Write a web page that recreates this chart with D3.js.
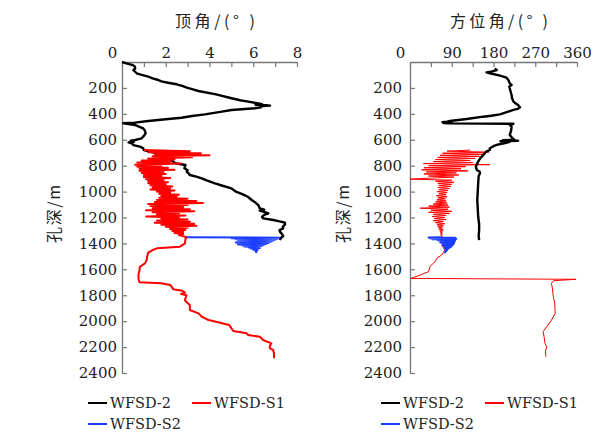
<!DOCTYPE html>
<html><head><meta charset="utf-8">
<script src="https://cdn.jsdelivr.net/npm/d3@7"></script>
<style>body{margin:0;background:#fff}</style>
</head><body><svg id="c" width="602" height="435"></svg>
<script>
// ---------- data ----------
const seriesNames = ["WFSD-2", "WFSD-S1", "WFSD-S2"];
const depthTicks = [200, 400, 600, 800, 1000, 1200, 1400, 1600, 1800, 2000, 2200, 2400];
const inclTicks = [0, 1, 2, 3, 4, 5, 6, 7, 8];
const azimTicks = [0, 45, 90, 135, 180, 225, 270, 315, 360];
const inclTitle = "顶角/(° )";
const azimTitle = "方位角/(° )";
const depthTitle = "孔深/m";

// [depth m, inclination deg]
const wfsd2Incl = [[0,0],[10,0.2],[24,0.5],[36,0.59],[50,0.6],[62,0.52],[75,0.6],[87,0.67],[100,0.9],[113,1.2],[126,1.4],[139,1.66],[150,1.8],[160,2.1],[172,2.5],[185,2.75],[198,2.96],[210,3.2],[224,3.49],[250,4.3],[280,5.01],[295,5.4],[306,5.77],[319,6.23],[326,6.4],[330,6.1],[334,6.6],[337,6.77],[342,6.3],[350,6.35],[357,6.08],[370,5.0],[385,4.5],[404,3.79],[417,3.2],[430,2.72],[442,2.0],[455,1.2],[468,0.59],[473,0.06],[478,0.3],[486,0.59],[500,0.8],[512,0.97],[530,1.05],[550,1.08],[570,1.0],[589,0.9],[602,0.6],[608,0.4],[615,0.55],[620,0.3],[628,0.45],[641,0.52],[653,0.82],[666,0.97],[679,1.0],[692,1.28],[710,1.7],[731,2.04],[750,2.2],[769,2.34],[782,2.45],[795,2.9],[808,2.88],[820,2.85],[835,3.0],[847,2.96],[860,3.05],[872,3.1],[885,3.4],[898,3.64],[915,3.9],[936,4.25],[955,4.6],[975,5.0],[1000,5.2],[1020,5.5],[1040,5.75],[1065,5.93],[1085,6.1],[1104,6.23],[1130,6.3],[1140,6.5],[1148,6.3],[1155,6.46],[1168,6.69],[1180,6.5],[1195,6.4],[1207,6.46],[1219,6.92],[1230,7.2],[1240,7.45],[1255,7.45],[1270,7.35],[1284,7.37],[1297,7.2],[1309,7.22],[1325,7.3],[1343,7.37],[1360,7.25],[1375,7.22]];

// [depth m, azimuth deg]
const wfsd2Azim = [[49,183],[62,187],[75,175],[80,165],[87,172],[105,194],[121,208],[139,212],[165,215],[177,219],[190,214],[203,215],[230,217],[255,219],[280,220],[306,223],[320,228],[332,233],[350,237],[362,232],[370,223],[385,210],[404,194],[415,175],[422,158],[440,122],[455,86],[460,80],[464,70],[468,90],[471,72],[474,85],[477,223],[485,215],[499,219],[530,218],[563,215],[585,220],[600,225],[604,200],[608,233],[612,195],[616,215],[625,205],[640,187],[650,180],[666,172],[679,172],[690,165],[718,158],[740,152],[769,147],[790,144],[810,142],[833,144],[845,150],[859,151],[880,148],[936,147],[1000,146],[1065,145],[1130,146],[1194,147],[1250,149],[1297,149],[1340,148],[1374,149]];

const s1Incl = [[680,1.0],[688,3.1],[696,1.2],[704,3.6],[712,1.5],[720,4.0],[728,1.4],[736,3.2],[744,1.2],[752,2.4],[760,0.9],[768,2.2],[776,0.7],[784,2.7],[792,0.6],[800,1.8],[808,0.7],[816,2.1],[824,0.8],[832,2.4],[840,0.8],[848,1.9],[856,0.9],[864,2.0],[872,1.0],[880,1.8],[888,1.0],[896,2.2],[904,1.1],[912,1.9],[920,1.2],[928,2.1],[936,1.2],[944,2.0],[952,1.3],[960,2.3],[968,1.4],[976,2.2],[984,1.3],[992,2.4],[1000,1.6],[1008,2.2],[1016,1.7],[1024,2.6],[1032,1.8],[1040,2.5],[1048,1.7],[1056,3.0],[1064,1.6],[1072,3.4],[1080,1.5],[1088,3.7],[1096,1.2],[1104,3.0],[1112,1.3],[1120,2.8],[1128,1.4],[1136,3.1],[1144,1.1],[1152,3.3],[1160,1.4],[1168,2.6],[1176,1.6],[1184,2.9],[1192,1.1],[1200,2.6],[1208,1.8],[1216,3.0],[1224,1.6],[1232,3.1],[1240,1.5],[1248,3.3],[1256,1.8],[1264,3.4],[1272,2.0],[1280,3.0],[1288,2.2],[1296,2.9],[1304,2.3],[1312,2.8],[1320,2.4],[1328,2.8],[1336,2.6],[1344,2.8],[1352,2.95],[1365,2.9],[1400,2.88],[1425,2.65],[1438,1.6],[1451,1.4],[1471,1.2],[1500,1.15],[1528,1.13],[1554,1.05],[1580,0.82],[1605,0.8],[1644,0.75],[1680,0.76],[1700,0.8],[1708,1.8],[1721,2.2],[1734,2.27],[1754,2.34],[1765,2.75],[1780,2.88],[1790,2.7],[1800,2.95],[1823,2.9],[1840,2.88],[1875,3.1],[1914,3.1],[1940,3.5],[1965,3.64],[1991,3.95],[2004,4.3],[2030,4.9],[2042,4.95],[2076,5.09],[2094,5.7],[2107,5.77],[2120,6.3],[2145,6.45],[2171,6.83],[2190,6.76],[2210,6.76],[2222,6.91],[2250,6.95],[2287,6.95]];

const s1Azim = [[680,130],[688,80],[696,170],[704,70],[712,160],[720,65],[728,150],[736,60],[744,140],[752,55],[760,130],[768,50],[776,135],[784,29],[792,172],[800,40],[808,120],[816,30],[824,110],[832,25],[840,125],[848,35],[856,100],[864,30],[872,105],[880,40],[888,95],[896,45],[904,0],[912,90],[920,55],[928,95],[936,60],[944,90],[952,62],[960,88],[968,60],[976,85],[984,62],[992,82],[1000,58],[1008,80],[1016,62],[1024,78],[1032,57],[1040,80],[1048,60],[1056,76],[1064,58],[1072,78],[1080,55],[1088,80],[1096,50],[1104,82],[1112,40],[1120,85],[1128,22],[1136,82],[1144,45],[1152,90],[1160,40],[1168,85],[1176,50],[1184,78],[1192,48],[1200,75],[1208,52],[1216,78],[1224,50],[1232,72],[1240,55],[1248,75],[1256,58],[1264,72],[1272,60],[1280,70],[1288,62],[1296,72],[1304,64],[1312,70],[1320,65],[1328,70],[1336,66],[1344,70],[1352,68],[1380,68],[1420,70],[1451,75],[1470,72],[1490,68],[1515,58],[1541,54],[1560,48],[1580,43],[1618,40],[1644,22],[1660,10],[1670,2],[1677,358],[1683,330],[1688,309],[1708,305],[1750,307],[1811,309],[1860,312],[1940,313],[1991,305],[2042,295],[2081,287],[2120,289],[2171,291],[2197,295],[2230,292],[2274,293]];

const s2Incl = [[1352,2.95],[1356,7.2],[1360,5.0],[1364,7.1],[1368,5.2],[1372,7.0],[1376,5.3],[1380,6.9],[1384,5.5],[1388,6.8],[1392,5.2],[1396,6.7],[1400,5.4],[1404,6.6],[1408,5.3],[1412,6.5],[1416,5.5],[1420,6.4],[1424,5.6],[1428,6.3],[1432,5.8],[1436,6.3],[1440,5.9],[1444,6.2],[1448,6.0],[1452,6.2],[1458,6.1],[1466,6.15],[1472,6.1]];

const s2Azim = [[1352,68],[1354,40],[1356,97],[1360,42],[1364,100],[1368,48],[1372,98],[1376,60],[1380,97],[1384,70],[1388,96],[1392,65],[1396,95],[1400,70],[1404,94],[1408,72],[1412,92],[1416,70],[1420,90],[1424,74],[1428,88],[1432,75],[1436,85],[1440,76],[1444,82],[1448,76],[1452,80],[1458,78],[1466,76],[1476,75]];

// ---------- drawing ----------
const colors = {"WFSD-2": "#000000", "WFSD-S1": "#ff0000", "WFSD-S2": "#1a3cff"};
const svg = d3.select("#c");
const numFont = "'DejaVu Serif', serif";
const cjkFont = "'Noto Sans CJK SC', sans-serif";

const yScale = d3.scaleLinear().domain([0, 2400]).range([62, 373]);

function panel(cfg) {
  const x = d3.scaleLinear().domain(cfg.domain).range(cfg.range);
  const g = svg.append("g");

  const xAxis = d3.axisTop(x).tickValues(cfg.ticks).tickSizeInner(-5).tickSizeOuter(0).tickPadding(4)
    .tickFormat(d => (d % cfg.labelStep === 0 ? String(d) : ""));
  const gx = g.append("g").attr("transform", `translate(0,${yScale(0)})`).call(xAxis);
  gx.selectAll("text").filter(d => d === 0).attr("dx", -10);

  const yAxis = d3.axisLeft(yScale).tickValues(depthTicks).tickSizeInner(-5).tickSizeOuter(0)
    .tickPadding(cfg.ypad).tickFormat(d => String(d));
  const gy = g.append("g").attr("transform", `translate(${cfg.range[0]},0)`).call(yAxis);

  [gx, gy].forEach(a => {
    a.select(".domain").attr("stroke", "#777").attr("stroke-width", 1.3);
    a.selectAll(".tick line").attr("stroke", "#777").attr("stroke-width", 1.2);
    a.selectAll("text").attr("font-family", numFont).attr("font-size", 15).attr("fill", "#222");
  });

  const line = d3.line().x(d => x(d[1])).y(d => yScale(d[0]));
  cfg.series.forEach(s => {
    g.append("path").datum(s.data).attr("d", line).attr("fill", "none")
      .attr("stroke", colors[s.name]).attr("stroke-width", s.w).attr("stroke-linejoin", "round");
  });

  g.append("text").attr("x", cfg.titleX).attr("y", 27).attr("text-anchor", "middle")
    .attr("font-family", cjkFont).attr("font-size", 16).attr("fill", "#222")
    .attr("textLength", cfg.titleLen).attr("lengthAdjust", "spacing").text(cfg.title);
  g.append("text").attr("transform", `translate(${cfg.ylabX},214) rotate(-90)`).attr("text-anchor", "middle")
    .attr("dominant-baseline", "central")
    .attr("font-family", cjkFont).attr("font-size", 16).attr("fill", "#222")
    .attr("textLength", 58).attr("lengthAdjust", "spacing").text(depthTitle);

  // legend
  const lg = [
    {name: seriesNames[0], x: cfg.legX[0], y: 403},
    {name: seriesNames[1], x: cfg.legX[1], y: 403},
    {name: seriesNames[2], x: cfg.legX[0], y: 424}
  ];
  lg.forEach(l => {
    g.append("line").attr("x1", l.x).attr("x2", l.x + 19).attr("y1", l.y).attr("y2", l.y)
      .attr("stroke", colors[l.name]).attr("stroke-width", 2);
    g.append("text").attr("x", l.x + 22).attr("y", l.y + 5).attr("font-family", numFont)
      .attr("font-size", 14.5).attr("fill", "#222").text(l.name);
  });
}

panel({
  domain: [0, 8], range: [122, 297], ticks: inclTicks, labelStep: 2, ypad: 5,
  title: inclTitle, titleX: 215, titleLen: 80, ylabX: 53, legX: [88, 192],
  series: [
    {name: "WFSD-2", data: wfsd2Incl, w: 2.4},
    {name: "WFSD-S1", data: s1Incl, w: 2},
    {name: "WFSD-S2", data: s2Incl, w: 2}
  ]
});
panel({
  domain: [0, 360], range: [410, 577], ticks: azimTicks, labelStep: 90, ypad: 8,
  title: azimTitle, titleX: 499, titleLen: 98, ylabX: 342, legX: [381, 485],
  series: [
    {name: "WFSD-S1", data: s1Azim, w: 1},
    {name: "WFSD-2", data: wfsd2Azim, w: 2.4},
    {name: "WFSD-S2", data: s2Azim, w: 2}
  ]
});
</script>
</body></html>
